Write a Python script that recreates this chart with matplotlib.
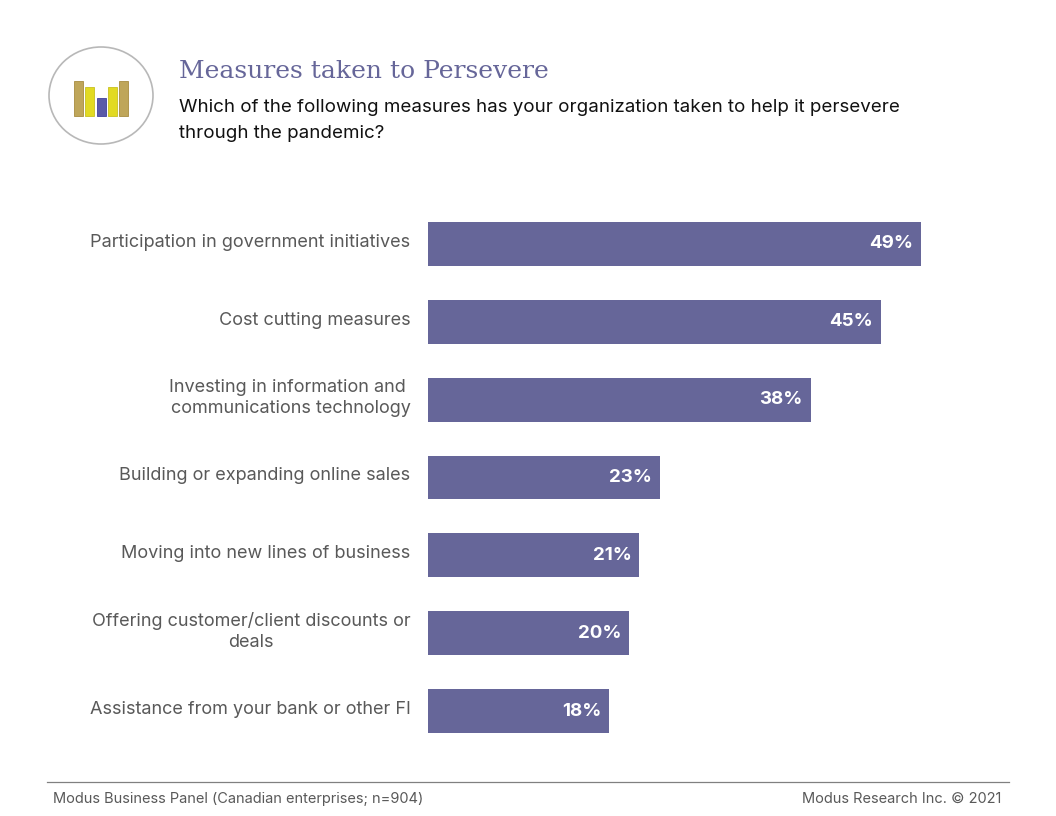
import matplotlib
matplotlib.use('Agg')
import matplotlib.pyplot as plt
from matplotlib.patches import Ellipse, Rectangle

categories = ['Participation in government initiatives',
              'Cost cutting measures',
              'Investing in information and \ncommunications technology',
              'Building or expanding online sales',
              'Moving into new lines of business',
              'Offering customer/client discounts or\ndeals',
              'Assistance from your bank or other FI']
values = [49, 45, 38, 23, 21, 20, 18]
icon_heights = [35, 29, 18, 29, 35]
icon_colors = ['#bfa65a', '#e2da22', '#5a5aa8', '#e2da22', '#bfa65a']
icon_edges = ['#a88c40', '#c8c020', '#4040a0', '#c8c020', '#a88c40']

purple = '#666699'
grey = '#595959'
W, H = 1056, 816

plt.rcParams['font.family'] = ['Inter', 'DejaVu Sans']

fig = plt.figure(figsize=(W/100, H/100), dpi=100)
ax = fig.add_axes([428/W, 1-750/H, 540/W, (750-205)/H])
ax.barh(range(len(values)), values, height=0.565, color=purple)
ax.set_ylim(len(values)-0.5, -0.5)
ax.set_xlim(0, 540/10.07)
for i, v in enumerate(values):
    ax.text(v-0.8, i, str(v)+'%', color='white', fontsize=13.5, fontweight='bold', ha='right', va='center')
    ax.text(-1.75, i-0.02, categories[i], color=grey, fontsize=13, ha='right', va='center', multialignment='right' if i != 5 else 'center', linespacing=1.3)
ax.axis('off')

# page layer in pixel coordinates
bg = fig.add_axes([0, 0, 1, 1], zorder=-1)
bg.set_xlim(0, W)
bg.set_ylim(H, 0)
bg.axis('off')
bg.add_patch(Ellipse((101, 95.5), 104, 97, fc='white', ec='#b8b8b8', lw=1.2))
x = 74
for h, c, e in zip(icon_heights, icon_colors, icon_edges):
    bg.add_patch(Rectangle((x, 116-h), 9, h, fc=c, ec=e, lw=0.6))
    x += 11.3
bg.text(179, 71, 'Measures taken to Persevere', color=purple, fontsize=18, family='DejaVu Serif', va='center')
bg.text(179, 107, 'Which of the following measures has your organization taken to help it persevere', color='#111111', fontsize=13.5, va='center')
bg.text(179, 134, 'through the pandemic?', color='#111111', fontsize=13.5, va='center')
bg.plot([47, 1009], [781.5, 781.5], color='#808080', lw=0.9)
bg.text(53, 799, 'Modus Business Panel (Canadian enterprises; n=904)', color=grey, fontsize=10.5, va='center')
bg.text(1001, 799, 'Modus Research Inc. © 2021', color=grey, fontsize=10.5, va='center', ha='right')

fig.savefig('out.png', dpi=100)
